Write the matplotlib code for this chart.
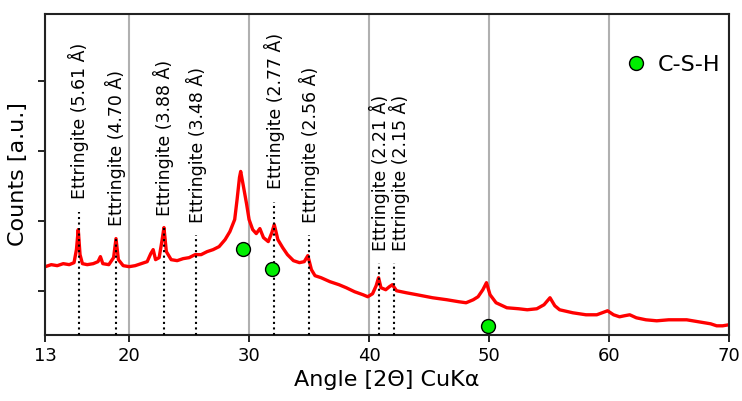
import matplotlib
matplotlib.use("Agg")
import matplotlib.pyplot as plt

# XRD pattern (counts in a.u.)
angle = [13.0, 13.5, 14.0, 14.5, 15.0, 15.4, 15.6, 15.75, 15.9, 16.1, 16.5, 17.0,
         17.4, 17.6, 17.8, 18.3, 18.7, 18.9, 19.1, 19.5, 20.0, 20.5, 21.0, 21.5,
         21.8, 22.0, 22.2, 22.5, 22.75, 22.9, 23.1, 23.5, 24.0, 24.5, 25.0, 25.5,
         26.0, 26.5, 27.0, 27.5, 28.0, 28.4, 28.8, 29.0, 29.2, 29.3, 29.5, 29.8,
         30.0, 30.3, 30.6, 30.9, 31.2, 31.6, 31.9, 32.1, 32.4, 32.8, 33.2, 33.7,
         34.2, 34.6, 34.9, 35.2, 35.5, 36.0, 36.75, 37.5, 38.1, 38.8, 39.5, 39.9,
         40.3, 40.6, 40.8, 41.0, 41.4, 41.7, 41.95, 42.3, 43.1, 44.0, 45.3, 46.5,
         47.5, 48.1, 48.7, 49.1, 49.5, 49.8, 50.1, 50.6, 51.5, 52.5, 53.2, 54.0,
         54.6, 55.1, 55.5, 55.9, 57.0, 58.1, 59.0, 59.9, 60.4, 60.9, 61.3, 61.75,
         62.3, 63.1, 64.0, 65.0, 66.0, 66.5, 67.5, 68.5, 69.0, 69.5, 70.0]
counts = [680, 700, 690, 710, 700, 720, 850, 1050, 800, 710, 700, 710,
          730, 780, 710, 700, 770, 960, 750, 690, 680, 690, 710, 730,
          810, 850, 750, 770, 950, 1070, 830, 750, 740, 760, 770, 800,
          800, 830, 850, 880, 950, 1030, 1150, 1350, 1570, 1630, 1500, 1300,
          1150, 1050, 1010, 1060, 970, 930, 1020, 1100, 950, 870, 800, 740,
          720, 730, 790, 650, 590, 570, 530, 500, 470, 430, 400, 380,
          410, 490, 570, 470, 450, 480, 500, 440, 420, 400, 370, 350,
          330, 320, 350, 380, 450, 520, 400, 320, 270, 260, 250, 260,
          300, 370, 290, 250, 220, 200, 200, 240, 200, 180, 190, 200,
          170, 150, 140, 150, 150, 150, 130, 110, 90, 90, 100]

# ettringite reflections: 2theta, label, height of the dotted marker
ett_pos = [15.78, 18.87, 22.90, 25.58, 32.1, 35.02, 40.85, 42.05]
ett_d = ["5.61", "4.70", "3.88", "3.48", "2.77", "2.56", "2.21", "2.15"]
ett_top = [1230, 970, 1070, 1000, 1330, 1000, 720, 720]

# C-S-H markers
csh_x = [29.5, 31.9, 49.9]
csh_y = [857, 657, 93]

fig, ax = plt.subplots(figsize=(7.42, 4.01), dpi=100)
fig.subplots_adjust(left=0.061, right=0.982, bottom=0.165, top=0.965)

ax.plot(angle, counts, color="red", lw=2.4, zorder=2)

for i, (x, d, top) in enumerate(zip(ett_pos, ett_d, ett_top)):
    ax.plot([x, x], [0, top], color="black", ls=":", lw=1.5, zorder=3)
    # the last two labels sit very close, nudge the 2.15 one to the right
    tx = x + 0.5 if i == len(ett_pos) - 1 else x
    ax.text(tx, top + 120, "Ettringite (" + d + " Å)", rotation=90,
            ha="center", va="bottom", fontsize=12.5)

ax.plot(csh_x, csh_y, "o", color="#00ee00", markeredgecolor="black",
        markersize=10, markeredgewidth=1, label="C-S-H", zorder=4)

ax.set_xlim(13, 70)
ax.set_ylim(0, 3200)
ax.set_xticks([13, 20, 30, 40, 50, 60, 70])
ax.set_yticks([440, 1135, 1830, 2530])
ax.set_yticklabels([])
ax.tick_params(axis="x", labelsize=13, length=5, width=1.2)
ax.tick_params(axis="y", length=5, width=1.2)
ax.grid(axis="x", color="#b0b0b0", lw=1.5)
ax.set_axisbelow(True)
for s in ax.spines.values():
    s.set_linewidth(1.5)
    s.set_color("#222222")

ax.set_xlabel("Angle [2Θ] CuKα", fontsize=16)
ax.set_ylabel("Counts [a.u.]", fontsize=16)
ax.legend(loc="upper right", frameon=False, fontsize=16, handlelength=1.0,
          handletextpad=0.45, borderaxespad=0, bbox_to_anchor=(1.0, 0.90))

plt.savefig("out.png", dpi=100)
